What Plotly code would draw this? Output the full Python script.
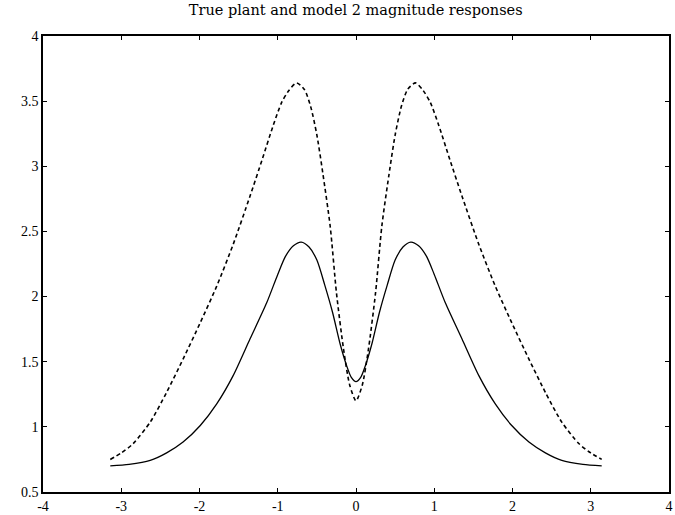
import plotly.graph_objects as go

# Frequency (rad) sample points
x_solid = [-3.14, -2.90, -2.63, -2.42, -2.21, -1.99, -1.78, -1.57, -1.355, -1.14, -1.0,
           -0.9, -0.8, -0.7, -0.6, -0.5, -0.4, -0.3, -0.2, -0.12, -0.06, 0.0,
           0.06, 0.12, 0.2, 0.3, 0.4, 0.5, 0.6, 0.7, 0.8, 0.9, 1.0,
           1.14, 1.355, 1.57, 1.78, 1.99, 2.21, 2.42, 2.63, 2.90, 3.14]
y_solid = [0.700, 0.712, 0.742, 0.800, 0.883, 1.010, 1.176, 1.393, 1.674, 1.954, 2.170,
           2.310, 2.390, 2.418, 2.380, 2.280, 2.090, 1.880, 1.630, 1.470, 1.380, 1.347,
           1.380, 1.470, 1.630, 1.880, 2.090, 2.280, 2.380, 2.418, 2.390, 2.310, 2.170,
           1.954, 1.674, 1.393, 1.176, 1.010, 0.883, 0.800, 0.742, 0.712, 0.700]

x_dash = [-3.14, -3.0, -2.85, -2.63, -2.42, -2.21, -1.99, -1.78, -1.57, -1.355, -1.2, -1.06,
          -0.95, -0.86, -0.76, -0.66, -0.58, -0.5, -0.42, -0.33, -0.25, -0.16, -0.08, 0.0,
          0.08, 0.16, 0.25, 0.33, 0.42, 0.5, 0.58, 0.66, 0.76, 0.86, 0.95,
          1.06, 1.2, 1.355, 1.57, 1.78, 1.99, 2.21, 2.42, 2.63, 2.85, 3.0, 3.14]
y_dash = [0.750, 0.800, 0.870, 1.036, 1.265, 1.520, 1.800, 2.080, 2.400, 2.770, 3.050, 3.310,
          3.490, 3.580, 3.640, 3.590, 3.460, 3.240, 2.930, 2.540, 2.030, 1.600, 1.320, 1.200,
          1.320, 1.600, 2.030, 2.540, 2.930, 3.240, 3.460, 3.590, 3.640, 3.580, 3.490,
          3.310, 3.050, 2.770, 2.400, 2.080, 1.800, 1.520, 1.265, 1.036, 0.870, 0.800, 0.750]

x_ticks = [-4, -3, -2, -1, 0, 1, 2, 3, 4]
x_labels = ["-4", "-3", "-2", "-1", "0", "1", "2", "3", "4"]
y_ticks = [0.5, 1, 1.5, 2, 2.5, 3, 3.5, 4]
y_labels = ["0.5", "1", "1.5", "2", "2.5", "3", "3.5", "4"]

title_text = "True plant and model 2 magnitude responses"

fig = go.Figure()
fig.add_trace(go.Scatter(x=x_dash, y=y_dash, mode="lines", line_shape="spline",
                         line=dict(color="black", width=1.6, dash="4px,3px", smoothing=0.7),
                         showlegend=False, hoverinfo="skip"))
fig.add_trace(go.Scatter(x=x_solid, y=y_solid, mode="lines", line_shape="spline",
                         line=dict(color="black", width=1.3, smoothing=0.7),
                         showlegend=False, hoverinfo="skip"))

font = "Liberation Serif, Times New Roman, serif"
axis_common = dict(showgrid=False, zeroline=False, showline=True, linecolor="black",
                   linewidth=1.5, mirror="ticks", ticks="inside", ticklen=4,
                   tickcolor="black", automargin=False,
                   tickfont=dict(family=font, size=14, color="black"))

fig.update_layout(
    width=675, height=515,
    margin=dict(l=43, r=6, t=36, b=23),
    paper_bgcolor="white", plot_bgcolor="white",
    title=dict(text=title_text, x=0.527, xanchor="center", y=0.99, yanchor="top",
               font=dict(family="DejaVu Serif, serif", size=14.5, color="black")),
    xaxis=dict(range=[-4, 4], tickvals=x_ticks, ticktext=x_labels, **axis_common),
    yaxis=dict(range=[0.5, 4], tickvals=y_ticks, ticktext=y_labels, **axis_common),
)

fig.write_html("out.html", config={"displayModeBar": False},
               post_script="document.body.style.margin='0';document.body.style.padding='0';")
